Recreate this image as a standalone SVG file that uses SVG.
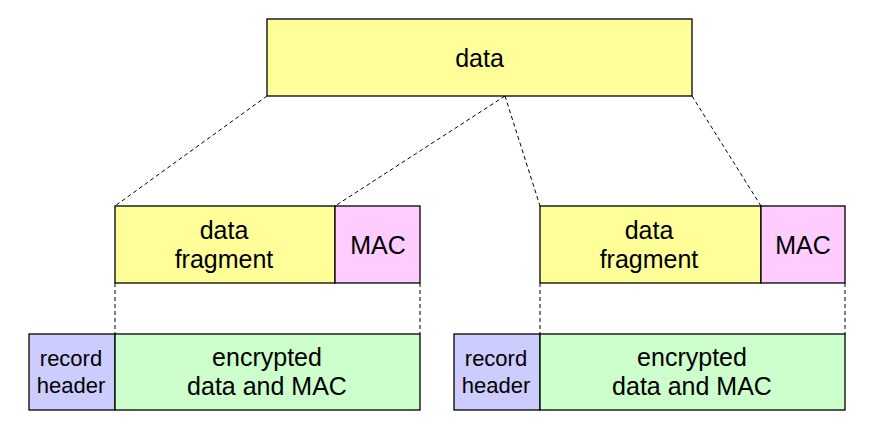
<svg xmlns="http://www.w3.org/2000/svg" width="884" height="426" viewBox="0 0 884 426">
<style>
rect{stroke:#000;stroke-width:1.3}
.y{fill:#FFFF99}.p{fill:#FFCCFF}.g{fill:#CCFFCC}.b{fill:#CCCCFF}
text{font-family:"Liberation Sans",Arial,sans-serif;font-size:25px;fill:#000;text-anchor:middle}
.s{font-size:22px}
.c line{stroke:#000;stroke-width:1;stroke-dasharray:4 3}
</style>
<rect width="884" height="426" fill="#fff" style="stroke:none"/>
<g class="c" id="connectors">
<line x1="267" y1="96" x2="115" y2="206"/>
<line x1="505" y1="96" x2="335" y2="206"/>
<line x1="505" y1="96" x2="540" y2="206"/>
<line x1="692" y1="96" x2="761" y2="206"/>
<line x1="115" y1="283" x2="115" y2="334"/>
<line x1="420" y1="283" x2="420" y2="334"/>
<line x1="540" y1="283" x2="540" y2="334"/>
<line x1="845" y1="283" x2="845" y2="334"/>
</g>
<g id="data"><rect class="y" x="267" y="19" width="425" height="77"/><text x="479.5" y="66.5">data</text></g>
<g id="frag1"><rect class="y" x="115" y="206" width="220" height="77"/><text x="224" y="239">data</text><text x="224" y="268">fragment</text></g>
<g id="mac1"><rect class="p" x="335" y="206" width="85" height="77"/><text x="378" y="254">MAC</text></g>
<g id="frag2"><rect class="y" x="540" y="206" width="221" height="77"/><text x="649" y="239">data</text><text x="649" y="268">fragment</text></g>
<g id="mac2"><rect class="p" x="761" y="206" width="84" height="77"/><text x="803" y="254">MAC</text></g>
<g id="hdr1"><rect class="b" x="29" y="334" width="86" height="76"/><text class="s" x="71" y="366">record</text><text class="s" x="71" y="393">header</text></g>
<g id="enc1"><rect class="g" x="115" y="334" width="305" height="76"/><text x="267" y="366">encrypted</text><text x="267" y="395">data and MAC</text></g>
<g id="hdr2"><rect class="b" x="454" y="334" width="86" height="76"/><text class="s" x="496" y="366">record</text><text class="s" x="496" y="393">header</text></g>
<g id="enc2"><rect class="g" x="540" y="334" width="305" height="76"/><text x="692" y="366">encrypted</text><text x="692" y="395">data and MAC</text></g>
</svg>
